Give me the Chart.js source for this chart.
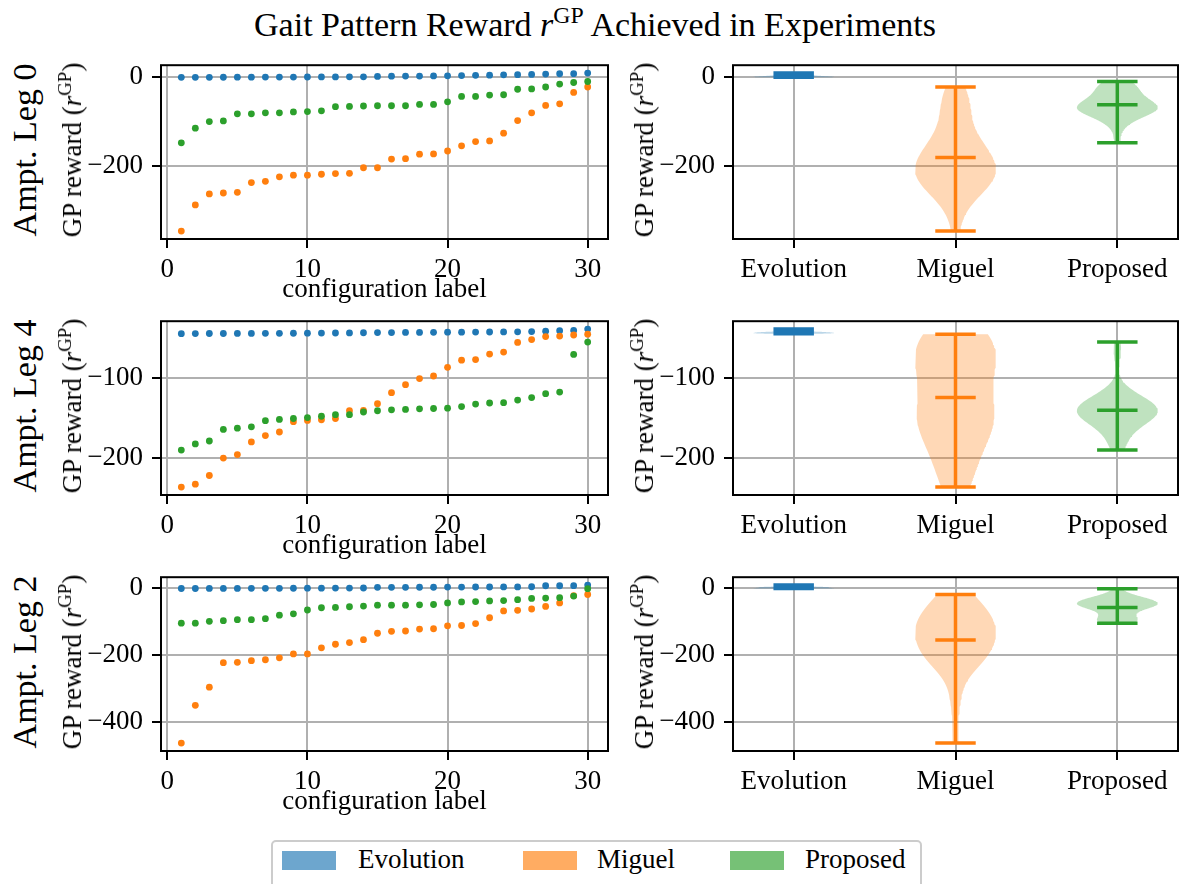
<!DOCTYPE html>
<html>
<head>
<meta charset="utf-8">
<title>Gait Pattern Reward</title>
<script src="https://cdn.jsdelivr.net/npm/chart.js@4.4.0/dist/chart.umd.min.js"></script>
<style>
body{margin:0;background:#fff;width:1181px;height:884px;overflow:hidden;position:relative;font-family:"Liberation Serif",serif;color:#000}
canvas{position:absolute}
.txt{position:absolute;white-space:nowrap;line-height:1}
.ctr{transform:translateX(-50%)}
.rot{transform-origin:0 0;transform:rotate(-90deg) translateX(-50%)}
sup{font-size:0.7em;vertical-align:0;position:relative;top:-0.55em;line-height:0}
.legend{position:absolute;left:271px;top:840px;width:647px;height:60px;border:2px solid #cccccc;border-radius:5px}
.patch{position:absolute;top:851px;width:54px;height:19px}
</style>
</head>
<body>
<div class="txt ctr" style="left:595px;top:8px;font-size:34px">Gait Pattern Reward <i>r</i><sup>GP</sup> Achieved in Experiments</div>
<div class="legend"></div>
<div class="patch" style="left:282px;background:rgba(31,119,180,0.65)"></div>
<div class="txt" style="left:358px;top:846px;font-size:27px">Evolution</div>
<div class="patch" style="left:523px;background:rgba(255,127,14,0.65)"></div>
<div class="txt" style="left:597px;top:846px;font-size:27px">Miguel</div>
<div class="patch" style="left:730px;background:rgba(44,160,44,0.65)"></div>
<div class="txt" style="left:805px;top:846px;font-size:27px">Proposed</div>
<script>
// values, one entry per configuration label 1..30 (sorted per method)
const configIds = [1,2,3,4,5,6,7,8,9,10,11,12,13,14,15,16,17,18,19,20,21,22,23,24,25,26,27,28,29,30];
const methodNames = ['Evolution', 'Miguel', 'Proposed'];
const rowNames = ['Ampt. Leg 0', 'Ampt. Leg 4', 'Ampt. Leg 2'];
const configTicks = [0, 10, 20, 30];
const methodTicks = [1, 2, 3];
const yTicksLeg0 = [0, -200];
const yTicksLeg4 = [-100, -200];
const yTicksLeg2 = [0, -200, -400];

const evoLeg0 = [-1.5,-1.5,-1.4,-1.3,-1.2,-1.1,-1.0,-1.0,-0.9,-0.8,-0.6,-0.5,-0.4,-0.3,0.5,1.0,1.2,1.4,1.6,1.8,2.5,3.0,3.3,4.2,4.5,5.0,5.8,6.5,6.8,8.0];
const miguelLeg0 = [-347.6,-288.7,-264.0,-261.8,-260.4,-238.5,-235.6,-225.5,-221.8,-221.8,-219.6,-218.2,-217.5,-205.0,-205.0,-185.5,-184.7,-174.5,-173.8,-167.3,-155.6,-146.2,-144.7,-127.3,-98.9,-81.5,-64.7,-61.1,-35.6,-23.3];
const propLeg0 = [-149.0,-116.0,-101.0,-99.6,-83.6,-83.6,-81.5,-81.5,-79.3,-78.5,-77.0,-67.6,-67.0,-66.0,-65.5,-65.5,-65.5,-62.5,-62.5,-56.7,-44.4,-44.4,-41.5,-40.7,-28.4,-27.6,-23.3,-16.7,-13.1,-10.9];

const evoLeg4 = [-44.2,-44.1,-44.0,-44.0,-43.9,-43.9,-43.8,-43.8,-43.7,-43.6,-43.5,-43.4,-43.3,-43.1,-42.9,-42.8,-42.7,-42.6,-42.5,-42.4,-42.3,-42.2,-42.1,-42.0,-41.9,-41.6,-41.2,-40.5,-40.2,-38.5];
const miguelLeg4 = [-236.3,-232.7,-221.8,-200.0,-195.6,-179.8,-171.8,-167.3,-154.4,-152.8,-152.0,-150.4,-140.7,-140.3,-131.9,-118.1,-108.1,-100.4,-97.2,-86.3,-77.4,-76.6,-69.8,-67.3,-55.2,-51.6,-47.9,-47.2,-45.9,-44.8];
const propLeg4 = [-190.0,-182.3,-178.6,-164.1,-162.5,-160.9,-153.2,-151.6,-150.4,-149.2,-147.6,-145.6,-145.6,-142.3,-140.7,-139.5,-139.1,-138.3,-137.9,-137.5,-135.5,-132.3,-131.0,-130.6,-127.4,-124.2,-119.4,-117.3,-70.2,-54.8];

const evoLeg2 = [-0.5,-0.4,-0.3,-0.2,-0.1,0.0,0.1,0.2,0.3,0.4,0.5,0.7,0.9,1.1,2.9,3.0,3.1,3.2,3.3,3.9,3.9,4.0,4.0,4.1,4.2,4.8,7.7,7.8,7.9,9.7];
const miguelLeg2 = [-462.8,-349.8,-295.7,-222.2,-221.3,-216.4,-213.5,-207.7,-196.1,-196.1,-177.8,-167.2,-162.3,-153.6,-134.3,-128.5,-127.5,-121.7,-120.8,-112.1,-111.1,-105.3,-87.9,-67.6,-65.7,-61.8,-54.1,-43.5,-22.0,-18.4];
const propLeg2 = [-104.3,-104.3,-98.6,-96.6,-93.7,-93.7,-90.8,-80.2,-76.3,-64.7,-58.0,-57.0,-55.1,-53.1,-50.2,-50.2,-50.2,-49.3,-48.3,-43.5,-40.6,-39.6,-37.7,-36.7,-33.8,-30.0,-29.0,-28.0,-23.2,-1.0];

const colors = ['31,119,180', '255,127,14', '44,160,44'];

const rows = [
    {name: rowNames[0], series: [evoLeg0, miguelLeg0, propLeg0], yTicks: yTicksLeg0},
    {name: rowNames[1], series: [evoLeg4, miguelLeg4, propLeg4], yTicks: yTicksLeg4},
    {name: rowNames[2], series: [evoLeg2, miguelLeg2, propLeg2], yTicks: yTicksLeg2}
];

// page geometry
const rowTop = [60, 316, 572];
const plotH = 179;
const padTop = 20;
const axisH = 45;
const leftCol = {x: 80, w: 540, yw: 81, padRight: 12};
const rightCol = {x: 650, w: 531, yw: 83, padRight: 3};
const violinWidth = 0.5;
const tickSize = 27;

Chart.defaults.font.family = '"Liberation Serif", serif';
Chart.defaults.color = '#000';

const boxPlugin = {
    id: 'box',
    afterDraw(chart) {
        const a = chart.chartArea;
        const ctx = chart.ctx;
        ctx.save();
        ctx.strokeStyle = '#000';
        ctx.lineWidth = 2;
        ctx.strokeRect(a.left, a.top, a.right - a.left, a.bottom - a.top);
        ctx.restore();
    }
};

function fmt(v) {
    return v < 0 ? '\u2212' + Math.abs(v) : String(v);
}

function addText(html, left, top, size, cls) {
    const d = document.createElement('div');
    d.className = 'txt ' + cls;
    d.style.left = left + 'px';
    d.style.top = top + 'px';
    d.style.fontSize = size + 'px';
    d.innerHTML = html;
    document.body.appendChild(d);
}

function addCanvas(left, top, w, h) {
    const c = document.createElement('canvas');
    c.width = w;
    c.height = h;
    c.style.left = left + 'px';
    c.style.top = top + 'px';
    document.body.appendChild(c);
    return c;
}

function axis(min, max, ticks, labelFn, size, isY, z, pad) {
    return {
        type: 'linear',
        min: min,
        max: max,
        z: z,
        afterBuildTicks: function (a) { a.ticks = ticks.map(v => ({value: v})); },
        afterFit: function (a) { if (isY) { a.width = size; } else { a.height = size; } },
        grid: {color: '#b0b0b0', lineWidth: 2, tickLength: 9, tickWidth: 2, tickColor: '#000'},
        border: {display: false},
        ticks: {font: {size: tickSize}, color: '#000', padding: pad, autoSkip: false, maxRotation: 0, callback: labelFn}
    };
}

function kde(data, pts) {
    const n = data.length;
    const mean = data.reduce((a, b) => a + b, 0) / n;
    const sd = Math.sqrt(data.reduce((a, b) => a + (b - mean) * (b - mean), 0) / (n - 1));
    const bw = sd * Math.pow(n, -0.2);
    return pts.map(p => data.reduce((s, d) => s + Math.exp(-0.5 * ((p - d) / bw) * ((p - d) / bw)), 0));
}

function violinSets(values, pos, rgb) {
    const lo = Math.min(...values);
    const hi = Math.max(...values);
    const mean = values.reduce((a, b) => a + b, 0) / values.length;
    const coords = [];
    for (let i = 0; i < 100; i++) coords.push(lo + (hi - lo) * i / 99);
    const dens = kde(values, coords);
    const dmax = Math.max(...dens);
    const half = dens.map(d => violinWidth / 2 * d / dmax);
    const body = coords.map((c, i) => ({x: pos + half[i], y: c}))
        .concat(coords.map((c, i) => ({x: pos - half[i], y: c})).reverse());
    const cap = violinWidth / 4;
    const lines = [
        {x: pos - cap, y: hi}, {x: pos + cap, y: hi}, {x: pos, y: null},
        {x: pos - cap, y: mean}, {x: pos + cap, y: mean}, {x: pos, y: null},
        {x: pos - cap, y: lo}, {x: pos + cap, y: lo}, {x: pos, y: null},
        {x: pos, y: lo}, {x: pos, y: hi}
    ];
    return [
        {type: 'line', data: body, fill: 'shape', backgroundColor: 'rgba(' + rgb + ',0.3)', borderWidth: 0, pointRadius: 0, tension: 0, order: 2},
        {type: 'line', data: lines, fill: false, borderColor: 'rgb(' + rgb + ')', borderWidth: 3.5, borderCapStyle: 'butt', pointRadius: 0, tension: 0, spanGaps: false, order: 1}
    ];
}

rows.forEach(function (row, r) {
    const top = rowTop[r];
    const all = [].concat(...row.series);
    const lo = Math.min(...all), hi = Math.max(...all);
    const yMin = lo - 0.05 * (hi - lo), yMax = hi + 0.05 * (hi - lo);
    const cx0 = Math.min(...configIds), cx1 = Math.max(...configIds);
    const chartH = padTop + plotH + axisH;

    // left: scatter of each configuration
    const cl = addCanvas(leftCol.x, top - padTop, leftCol.w, chartH);
    new Chart(cl, {
        type: 'scatter',
        data: {
            datasets: row.series.map((s, k) => ({
                label: methodNames[k],
                data: configIds.map((x, i) => ({x: x, y: s[i]})),
                backgroundColor: 'rgb(' + colors[k] + ')',
                borderColor: 'rgb(' + colors[k] + ')',
                pointRadius: 3.4,
                pointBorderWidth: 0,
                order: 3 - k
            }))
        },
        options: {
            responsive: false, animation: false, events: [],
            layout: {padding: {top: padTop, right: leftCol.padRight, left: 0, bottom: 0}},
            plugins: {legend: {display: false}, tooltip: {enabled: false}},
            scales: {
                x: axis(cx0 - 0.05 * (cx1 - cx0), cx1 + 0.05 * (cx1 - cx0), configTicks, v => String(v), axisH, false, 1, 6),
                y: axis(yMin, yMax, row.yTicks, v => fmt(v), leftCol.yw, true, 1, 9)
            }
        },
        plugins: [boxPlugin]
    });

    // right: violins of the same values
    const cr = addCanvas(rightCol.x, top - padTop, rightCol.w, chartH);
    let sets = [];
    row.series.forEach((s, k) => { sets = sets.concat(violinSets(s, methodTicks[k], colors[k])); });
    const m0 = methodTicks[0] - violinWidth / 2, m1 = methodTicks[2] + violinWidth / 2;
    new Chart(cr, {
        type: 'scatter',
        data: {datasets: sets},
        options: {
            responsive: false, animation: false, events: [],
            layout: {padding: {top: padTop, right: rightCol.padRight, left: 0, bottom: 0}},
            plugins: {legend: {display: false}, tooltip: {enabled: false}},
            scales: {
                x: axis(m0 - 0.05 * (m1 - m0), m1 + 0.05 * (m1 - m0), methodTicks, v => methodNames[v - 1], axisH, false, 0, 6),
                y: axis(yMin, yMax, row.yTicks, v => fmt(v), rightCol.yw, true, 0, 9)
            }
        },
        plugins: [boxPlugin]
    });

    const mid = top + plotH / 2;
    const leftArea = leftCol.x + leftCol.yw;
    const rightArea = leftCol.x + leftCol.w - leftCol.padRight;
    addText(row.name, 7.5, mid, 34, 'rot');
    addText('GP reward (<i>r</i><sup>GP</sup>)', 59.4, mid, 27, 'rot');
    addText('GP reward (<i>r</i><sup>GP</sup>)', 631.4, mid, 27, 'rot');
    addText('configuration label', (leftArea + rightArea) / 2, top + plotH + 36.4, 27, 'ctr');
});
</script>
</body>
</html>
